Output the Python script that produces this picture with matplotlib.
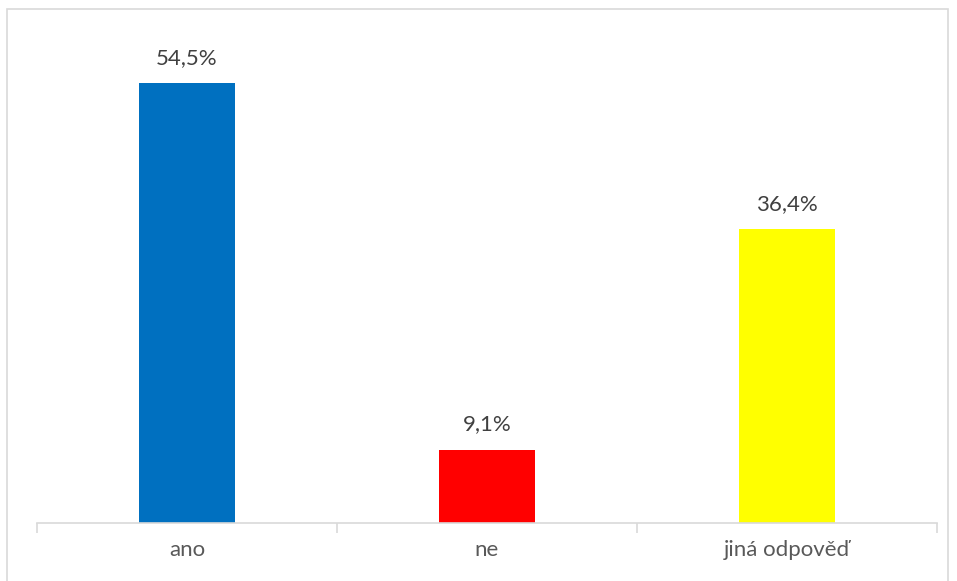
import matplotlib.pyplot as plt
from matplotlib.patches import Rectangle

categories = ["ano", "ne", "jiná odpověď"]
values = [54.5, 9.1, 36.4]
colors = ["#0070C0", "#FF0000", "#FFFF00"]

W, H = 957, 581
fig = plt.figure(figsize=(W / 100, H / 100), dpi=100)
plt.rcParams["font.family"] = ["Lato", "DejaVu Sans"]

# chart frame
fig.patches.append(Rectangle((7 / W, -0.1), (948 - 7) / W, (H - 9) / H + 0.1,
                             transform=fig.transFigure, fill=False,
                             edgecolor="#D9D9D9", linewidth=1.2))

# axes in pixel coords: x 37..937, baseline y 523
ax = fig.add_axes([37 / W, (H - 523) / H, 900 / W, (523 - 31) / H])
x = range(len(categories))
ax.bar(x, values, width=0.317, color=colors)
ax.set_xlim(-0.5, 2.5)
ax.set_ylim(0, 61)

for xi, v in zip(x, values):
    ax.annotate(f"{v:.1f}%".replace(".", ","), (xi, v), xytext=(0, 11),
                textcoords="offset points", ha="center", va="bottom",
                fontsize=16, color="#404040")

for s in ["left", "right", "top"]:
    ax.spines[s].set_visible(False)
ax.spines["bottom"].set_color("#D9D9D9")
ax.spines["bottom"].set_linewidth(1.2)
ax.set_yticks([])
ax.set_xticks([-0.5, 0.5, 1.5, 2.5])
ax.set_xticklabels([])
ax.set_xticks(list(x), minor=True)
ax.set_xticklabels(categories, minor=True)
ax.tick_params(axis="x", which="major", length=7, color="#D9D9D9", width=1.2)
ax.tick_params(axis="x", which="minor", length=0, pad=12, labelsize=16,
               labelcolor="#595959")

fig.savefig("out.png", dpi=100)
